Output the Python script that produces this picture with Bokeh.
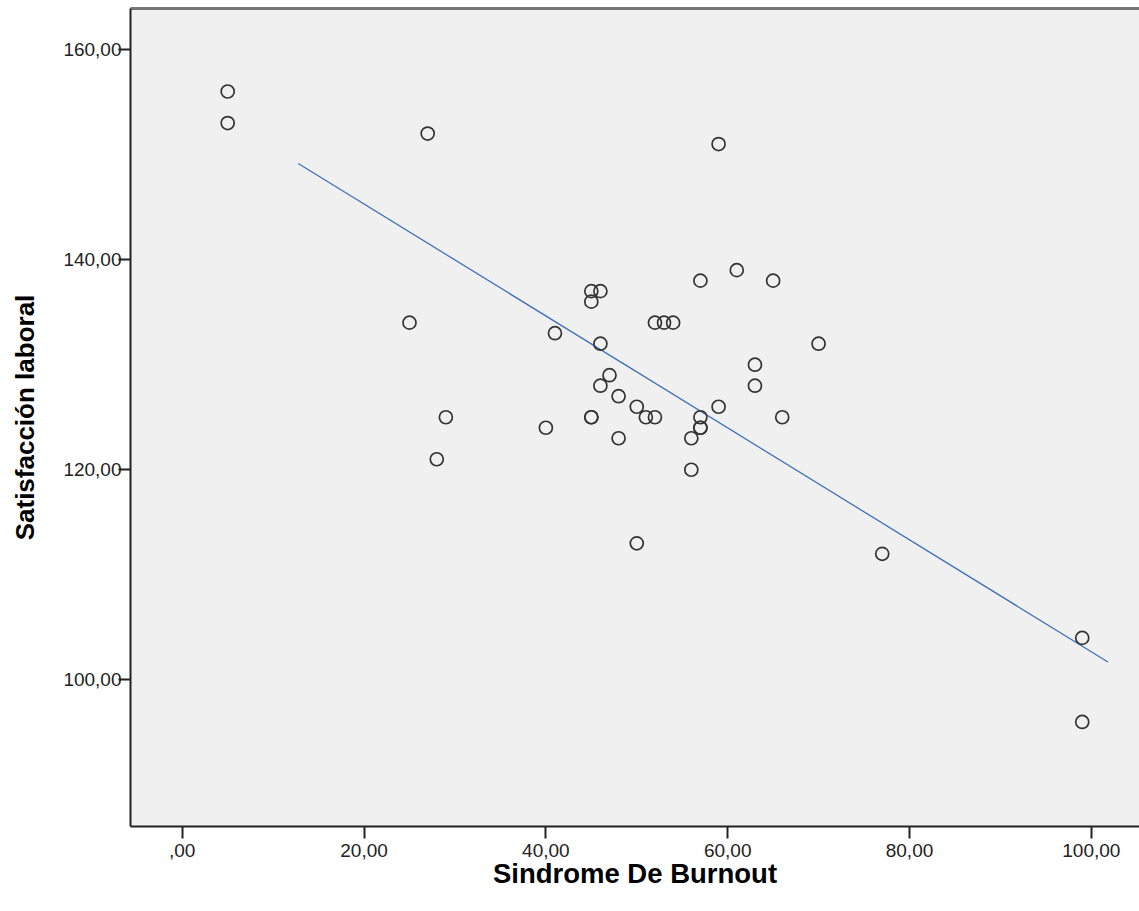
from bokeh.plotting import figure
from bokeh.models import LinearAxis, FixedTicker, Range1d
from bokeh.embed import file_html
from bokeh.resources import INLINE

# Data
burnout = [5, 5, 27, 59, 25, 41, 45, 46, 45, 46, 47, 46, 48, 50, 51, 52, 45, 45,
           29, 40, 48, 56, 57, 57, 57, 59, 63, 63, 66, 70, 52, 53, 54, 57, 61, 65,
           28, 56, 50, 77, 99, 99]
satisfaccion = [156, 153, 152, 151, 134, 133, 137, 137, 136, 132, 129, 128, 127, 126,
                125, 125, 125, 125, 125, 124, 123, 123, 125, 124, 124, 126, 130, 128,
                125, 132, 134, 134, 134, 138, 139, 138, 121, 120, 113, 112, 104, 96]

# Fit line
fit_intercept = 155.95
fit_slope = -0.5327
fit_x = [12.76, 101.83]
fit_y = [fit_intercept + fit_slope * v for v in fit_x]

x_ticks = [0, 20, 40, 60, 80, 100]
x_tick_labels = [",00", "20,00", "40,00", "60,00", "80,00", "100,00"]
y_ticks = [100, 120, 140, 160]
y_tick_labels = ["100,00", "120,00", "140,00", "160,00"]

FONT = "Liberation Sans"

p = figure(width=1139, height=891, output_backend="svg", toolbar_location=None,
           x_range=Range1d(-5.69, 105.3), y_range=Range1d(86.05, 163.9),
           min_border_left=130, min_border_right=0, min_border_top=8,
           min_border_bottom=60)
p.background_fill_color = "#f0f0f0"
p.border_fill_color = "white"
p.outline_line_color = None
p.grid.visible = False

p.line(fit_x, fit_y, line_color="#3f72b8", line_width=1.3)
p.scatter(burnout, satisfaccion, marker="circle", size=13, fill_color=None,
          line_color="#333333", line_width=1.7)

for ax in (p.xaxis[0], p.yaxis[0]):
    ax.axis_line_color = "#222222"
    ax.axis_line_width = 2
    ax.major_tick_line_color = "#222222"
    ax.major_tick_line_width = 2
    ax.major_tick_out = 12
    ax.major_tick_in = 0
    ax.minor_tick_line_color = None
    ax.major_label_text_font = FONT
    ax.major_label_text_font_size = "19px"
    ax.major_label_text_color = "#222222"
    ax.axis_label_text_font = FONT
    ax.axis_label_text_font_style = "bold"
    ax.axis_label_text_color = "black"

p.xaxis[0].ticker = FixedTicker(ticks=x_ticks)
p.xaxis[0].major_label_overrides = dict(zip(x_ticks, x_tick_labels))
p.xaxis[0].axis_label = "Sindrome De Burnout"
p.xaxis[0].axis_label_text_font_size = "27.5px"
p.xaxis[0].major_label_standoff = 5
p.xaxis[0].axis_label_standoff = -2

p.yaxis[0].ticker = FixedTicker(ticks=y_ticks)
p.yaxis[0].major_label_overrides = dict(zip(y_ticks, y_tick_labels))
p.yaxis[0].axis_label = "Satisfacción laboral"
p.yaxis[0].axis_label_text_font_size = "26px"
p.yaxis[0].major_label_standoff = -3
p.yaxis[0].axis_label_standoff = 20

top = LinearAxis(axis_line_color="#777777", axis_line_width=3,
                 major_tick_line_color=None, minor_tick_line_color=None,
                 major_label_text_font_size="0px", major_tick_out=0, major_tick_in=0,
                 ticker=FixedTicker(ticks=[]))
p.add_layout(top, "above")

open("out.html", "w").write(file_html(p, INLINE))
